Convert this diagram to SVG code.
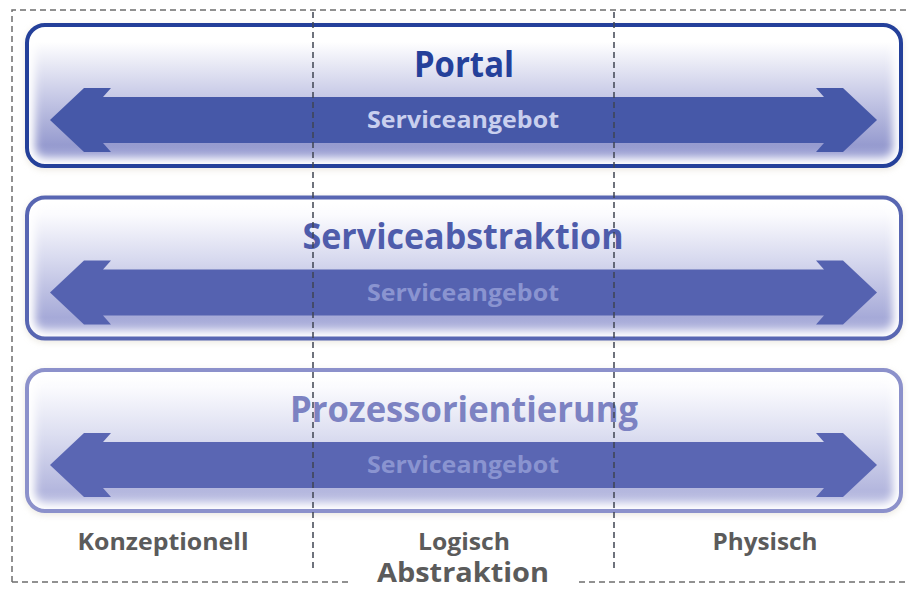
<svg xmlns="http://www.w3.org/2000/svg" width="909" height="591" viewBox="0 0 909 591">
<style>
.title{font-family:"Open Sans","Liberation Sans",sans-serif;font-weight:bold;font-size:35px;text-anchor:middle}
.svc{font-family:"Open Sans","Liberation Sans",sans-serif;font-weight:bold;font-size:23px;text-anchor:middle}
.lbl{font-family:"Open Sans","Liberation Sans",sans-serif;font-weight:bold;font-size:24px;text-anchor:middle;fill:#5b5b5b}
.dash{fill:none;stroke:#6e6e6e;stroke-width:1.5;stroke-dasharray:6 4}
.vdash{fill:none;stroke:#3f4452;stroke-width:1.5;stroke-dasharray:6 4}
.glow{fill:none;stroke:#ffffff;stroke-width:16;filter:url(#blur)}
</style>
<defs>
<filter id="blur" x="-5%" y="-20%" width="110%" height="140%"><feGaussianBlur stdDeviation="4"/></filter>
<filter id="shadow" x="-5%" y="-20%" width="110%" height="140%"><feGaussianBlur stdDeviation="3"/></filter>
<clipPath id="clip"><rect x="27" y="25" width="874" height="141" rx="18"/></clipPath>
<linearGradient id="g1" x1="0" y1="25" x2="0" y2="166" gradientUnits="userSpaceOnUse">
<stop offset="0" stop-color="#ffffff"/><stop offset="0.12" stop-color="#ffffff"/>
<stop offset="0.45" stop-color="#cfd1ea"/><stop offset="0.85" stop-color="#969bcf"/><stop offset="1" stop-color="#a9addb"/>
</linearGradient>
<linearGradient id="g2" x1="0" y1="25" x2="0" y2="166" gradientUnits="userSpaceOnUse">
<stop offset="0" stop-color="#ffffff"/><stop offset="0.12" stop-color="#fbfbfe"/>
<stop offset="0.45" stop-color="#d6d8ee"/><stop offset="0.85" stop-color="#a6aad8"/><stop offset="1" stop-color="#b6b9e0"/>
</linearGradient>
<linearGradient id="g3" x1="0" y1="25" x2="0" y2="166" gradientUnits="userSpaceOnUse">
<stop offset="0" stop-color="#ffffff"/><stop offset="0.12" stop-color="#fbfbfe"/>
<stop offset="0.45" stop-color="#dddff1"/><stop offset="0.85" stop-color="#b4b7de"/><stop offset="1" stop-color="#c2c5e6"/>
</linearGradient>
<path id="arrow" d="M50,120 L84,88 L111,88 L103,97 L824,97 L816,88 L843,88 L877,120 L843,152 L816,152 L824,143 L103,143 L111,152 L84,152 Z"/>
</defs>
<rect width="909" height="591" fill="#ffffff"/>

<g id="portal">
<rect x="25" y="25" width="878" height="145" rx="20" fill="#d8d2c4" opacity="0.5" filter="url(#shadow)"/>
<rect x="27" y="25" width="874" height="141" rx="18" fill="url(#g1)"/>
<g clip-path="url(#clip)"><rect class="glow" x="27" y="25" width="874" height="141" rx="18"/></g>
<use href="#arrow" fill="#4658a8"/>
<rect x="27" y="25" width="874" height="141" rx="18" fill="none" stroke="#24409a" stroke-width="4"/>
<text class="title" x="464" y="77" fill="#24409a" textLength="100" lengthAdjust="spacingAndGlyphs">Portal</text>
<text class="svc" x="463" y="128" fill="#c9cfee" textLength="192" lengthAdjust="spacingAndGlyphs">Serviceangebot</text>
</g>

<g id="serviceabstraktion" transform="translate(0,172.5)">
<rect x="25" y="25" width="878" height="145" rx="20" fill="#d8d2c4" opacity="0.5" filter="url(#shadow)"/>
<rect x="27" y="25" width="874" height="141" rx="18" fill="url(#g2)"/>
<g clip-path="url(#clip)"><rect class="glow" x="27" y="25" width="874" height="141" rx="18"/></g>
<use href="#arrow" fill="#5562b0"/>
<rect x="27" y="25" width="874" height="141" rx="18" fill="none" stroke="#5866b2" stroke-width="4"/>
<text class="title" x="463" y="76" fill="#4e5cab" textLength="321" lengthAdjust="spacingAndGlyphs">Serviceabstraktion</text>
<text class="svc" x="463" y="128" fill="#8a94d0" textLength="192" lengthAdjust="spacingAndGlyphs">Serviceangebot</text>
</g>

<g id="prozessorientierung" transform="translate(0,345)">
<rect x="25" y="25" width="878" height="145" rx="20" fill="#d8d2c4" opacity="0.5" filter="url(#shadow)"/>
<rect x="27" y="25" width="874" height="141" rx="18" fill="url(#g3)"/>
<g clip-path="url(#clip)"><rect class="glow" x="27" y="25" width="874" height="141" rx="18"/></g>
<use href="#arrow" fill="#5a66b3"/>
<rect x="27" y="25" width="874" height="141" rx="18" fill="none" stroke="#8c91cb" stroke-width="4"/>
<text class="title" x="464" y="77" fill="#7c82c2" textLength="348" lengthAdjust="spacingAndGlyphs">Prozessorientierung</text>
<text class="svc" x="463" y="128" fill="#8a94d0" textLength="192" lengthAdjust="spacingAndGlyphs">Serviceangebot</text>
</g>

<g id="labels">
<text class="lbl" x="163" y="550" textLength="171" lengthAdjust="spacingAndGlyphs">Konzeptionell</text>
<text class="lbl" x="464" y="550" textLength="92" lengthAdjust="spacingAndGlyphs">Logisch</text>
<text class="lbl" x="765" y="550" textLength="105" lengthAdjust="spacingAndGlyphs">Physisch</text>
<text class="lbl" x="463" y="582" style="font-size:26px" textLength="172" lengthAdjust="spacingAndGlyphs">Abstraktion</text>
</g>

<g id="connectors">
<path class="dash" d="M12,582 L12,10 L909,10"/>
<path class="dash" d="M12,582 L352,582"/>
<path class="dash" d="M579,582 L905,582"/>
<path class="vdash" d="M313,12 L313,570"/>
<path class="vdash" d="M614,12 L614,570"/>
</g>
</svg>
